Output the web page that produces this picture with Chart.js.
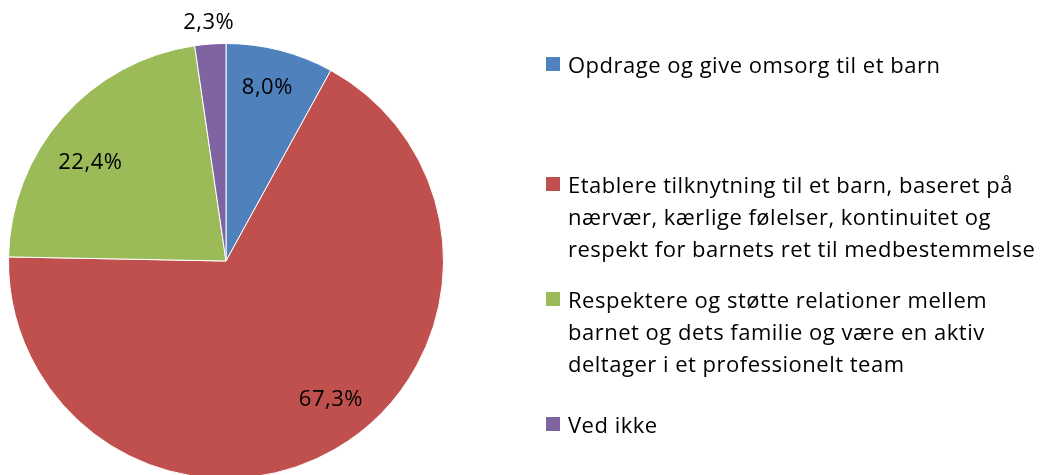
<!DOCTYPE html>
<html>
<head>
<meta charset="utf-8">
<script src="https://cdn.jsdelivr.net/npm/chart.js@4"></script>
<style>
  html, body { margin: 0; padding: 0; background: #fff; overflow: hidden; }
  #wrap { position: relative; width: 1043px; height: 490px; }
  #legend { position: absolute; left: 546px; top: 0; width: 497px; font-family: "Open Sans", sans-serif; font-size: 22px; letter-spacing: 0.5px; color: #000; }
  .item { position: absolute; left: 0; line-height: 32px; padding-left: 22px; white-space: nowrap; }
  .item span.box { position: absolute; left: 0; top: 9px; width: 14px; height: 14px; }
</style>
</head>
<body>
<div id="wrap">
  <canvas id="pie" width="1043" height="490"></canvas>
  <div id="legend"></div>
</div>
<script>
const labels = [
  'Opdrage og give omsorg til et barn',
  'Etablere tilknytning til et barn, baseret på nærvær, kærlige følelser, kontinuitet og respekt for barnets ret til medbestemmelse',
  'Respektere og støtte relationer mellem barnet og dets familie og være en aktiv deltager i et professionelt team',
  'Ved ikke'
];
const legendLines = [
  ['Opdrage og give omsorg til et barn'],
  ['Etablere tilknytning til et barn, baseret på', 'nærvær, kærlige følelser, kontinuitet og', 'respekt for barnets ret til medbestemmelse'],
  ['Respektere og støtte relationer mellem', 'barnet og dets familie og være en aktiv', 'deltager i et professionelt team'],
  ['Ved ikke']
];
const values = [8.0, 67.3, 22.4, 2.3];
const valueLabels = ['8,0%', '67,3%', '22,4%', '2,3%'];
const colors = ['#4F81BD', '#C0504D', '#9BBB59', '#8064A2'];

// legend top positions (px)
const legendTops = [48, 168, 283, 408];
const legend = document.getElementById('legend');
legendLines.forEach((lines, i) => {
  const div = document.createElement('div');
  div.className = 'item';
  div.style.top = legendTops[i] + 'px';
  div.innerHTML = '<span class="box" style="background:' + colors[i] + '"></span>' + lines.join('<br>');
  legend.appendChild(div);
});

// label placement: distance (fraction of radius, or px outside) and angle nudge in degrees
const labelPos = [
  { f: 0.82, da: -1 },
  { f: 0.80, da: -7 },
  { f: 0.77, da: -5.5 },
  { out: 21, da: 0 }
];
const pctLabels = {
  id: 'pctLabels',
  afterDatasetsDraw(chart) {
    const ctx = chart.ctx;
    const meta = chart.getDatasetMeta(0);
    ctx.save();
    ctx.font = '22px "Open Sans", sans-serif';
    ctx.letterSpacing = '0.5px';
    ctx.fillStyle = '#000';
    ctx.textAlign = 'center';
    ctx.textBaseline = 'middle';
    meta.data.forEach((arc, i) => {
      const p = labelPos[i];
      const mid = (arc.startAngle + arc.endAngle) / 2 + p.da * Math.PI / 180;
      const r = p.out ? arc.outerRadius + p.out : arc.outerRadius * p.f;
      ctx.fillText(valueLabels[i], arc.x + Math.cos(mid) * r, arc.y + Math.sin(mid) * r);
    });
    ctx.restore();
  }
};

new Chart(document.getElementById('pie').getContext('2d'), {
  type: 'pie',
  data: {
    labels: labels,
    datasets: [{
      data: values,
      backgroundColor: colors,
      borderColor: '#fff',
      borderWidth: 1
    }]
  },
  options: {
    responsive: false,
    animation: false,
    layout: { padding: { left: 8, top: 43, right: 599, bottom: 11 } },
    plugins: { legend: { display: false }, tooltip: { enabled: false } }
  },
  plugins: [pctLabels]
});
</script>
</body>
</html>
